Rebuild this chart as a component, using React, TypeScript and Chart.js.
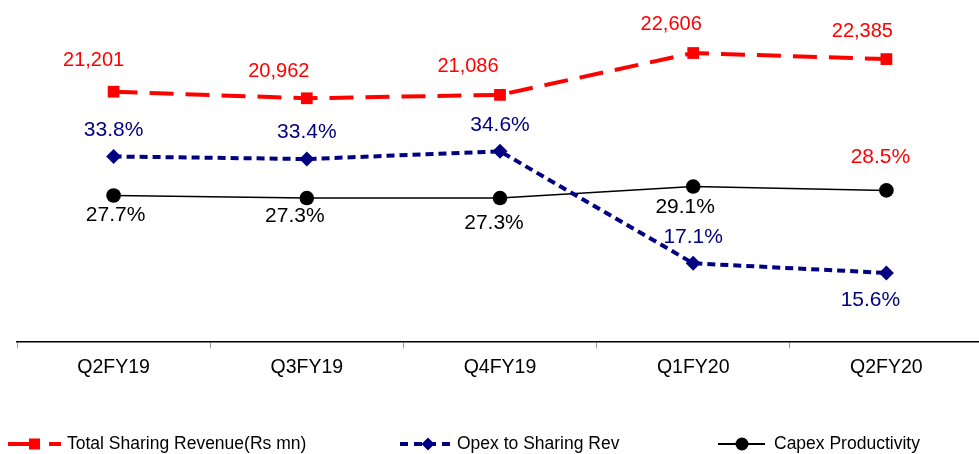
import React, { useEffect, useRef } from 'react';
import { Chart, registerables } from 'chart.js';

Chart.register(...registerables);

// ---- data ----
const categories = ['Q2FY19', 'Q3FY19', 'Q4FY19', 'Q1FY20', 'Q2FY20'];
const revenue = [21201, 20962, 21086, 22606, 22385];
const opexToRevenue = [33.8, 33.4, 34.6, 17.1, 15.6];
const capexProductivity = [27.7, 27.3, 27.3, 29.1, 28.5];
const seriesNames = ['Total Sharing Revenue(Rs mn)', 'Opex to Sharing Rev', 'Capex Productivity'];

// ---- styling / label placement (not data) ----
const FONT = '"Liberation Sans", Arial, Helvetica, sans-serif';
const RED = '#FF0000';
const NAVY = '#000080';
const BLACK = '#000000';

const revenueLabelOffsets = [[-20, -31], [-28, -27], [-32, -28], [-22, -29], [-24, -28]];
const opexLabelOffsets = [[0, -26], [0, -27], [0, -26], [0, -26], [-16, 27]];
const capexLabelOffsets = [[2, 20], [-12, 18], [-6, 25], [-8, 21], [-6, -33]];
const capexLabelColors = [BLACK, BLACK, BLACK, BLACK, RED];

const fmtRevenue = (v: number) => v.toLocaleString('en-US');
const fmtPct = (v: number) => v.toFixed(1) + '%';

const dataLabelPlugin = {
  id: 'dataLabels',
  afterDatasetsDraw(chart: any) {
    const ctx = chart.ctx;
    const specs = [
      { values: revenue, offsets: revenueLabelOffsets, colors: revenue.map(() => RED), fmt: fmtRevenue, size: 20 },
      { values: opexToRevenue, offsets: opexLabelOffsets, colors: opexToRevenue.map(() => NAVY), fmt: fmtPct, size: 21 },
      { values: capexProductivity, offsets: capexLabelOffsets, colors: capexLabelColors, fmt: fmtPct, size: 21 },
    ];
    ctx.save();
    ctx.textAlign = 'center';
    ctx.textBaseline = 'middle';
    specs.forEach((spec, di) => {
      const meta = chart.getDatasetMeta(di);
      ctx.font = `${spec.size}px ${FONT}`;
      meta.data.forEach((pt: any, i: number) => {
        const [dx, dy] = spec.offsets[i];
        ctx.fillStyle = spec.colors[i];
        ctx.fillText(spec.fmt(spec.values[i]), pt.x + dx, pt.y + dy);
      });
    });
    ctx.restore();
  },
};

const legendPlugin = {
  id: 'customLegend',
  afterDraw(chart: any) {
    const ctx = chart.ctx;
    const y = 444;
    ctx.save();
    // red item
    ctx.strokeStyle = RED;
    ctx.lineWidth = 4;
    ctx.setLineDash([21, 20]);
    ctx.beginPath();
    ctx.moveTo(8, y);
    ctx.lineTo(61, y);
    ctx.stroke();
    ctx.setLineDash([]);
    ctx.fillStyle = RED;
    ctx.fillRect(29, y - 5.5, 11, 11);

    // navy item
    ctx.strokeStyle = NAVY;
    ctx.lineWidth = 4;
    ctx.setLineDash([8, 6]);
    ctx.beginPath();
    ctx.moveTo(400, y);
    ctx.lineTo(452, y);
    ctx.stroke();
    ctx.setLineDash([]);
    ctx.fillStyle = NAVY;
    ctx.beginPath();
    ctx.moveTo(428 - 6.5, y);
    ctx.lineTo(428, y - 6.5);
    ctx.lineTo(428 + 6.5, y);
    ctx.lineTo(428, y + 6.5);
    ctx.closePath();
    ctx.fill();

    // black item
    ctx.strokeStyle = BLACK;
    ctx.lineWidth = 2;
    ctx.beginPath();
    ctx.moveTo(718, y);
    ctx.lineTo(765, y);
    ctx.stroke();
    ctx.fillStyle = BLACK;
    ctx.beginPath();
    ctx.arc(742, y, 6.5, 0, Math.PI * 2);
    ctx.fill();

    ctx.fillStyle = BLACK;
    ctx.font = `17.5px ${FONT}`;
    ctx.textAlign = 'left';
    ctx.textBaseline = 'middle';
    ctx.fillText(seriesNames[0], 67, y);
    ctx.fillText(seriesNames[1], 457, y);
    ctx.fillText(seriesNames[2], 774, y);
    ctx.restore();
  },
};

export default function App() {
  const canvasRef = useRef<HTMLCanvasElement | null>(null);

  useEffect(() => {
    if (!canvasRef.current) return;
    const chart = new Chart(canvasRef.current, {
      type: 'line',
      data: {
        labels: categories,
        datasets: [
          {
            label: seriesNames[0],
            data: revenue,
            yAxisID: 'yRev',
            borderColor: RED,
            backgroundColor: RED,
            borderWidth: 4,
            borderDash: [24, 12],
            pointStyle: 'rect',
            pointRadius: 8.3,
            pointBorderWidth: 0,
            pointBackgroundColor: RED,
            tension: 0,
            clip: false as any,
          },
          {
            label: seriesNames[1],
            data: opexToRevenue,
            yAxisID: 'yPct',
            borderColor: NAVY,
            backgroundColor: NAVY,
            borderWidth: 4,
            borderDash: [8, 5],
            pointStyle: 'rectRot',
            pointRadius: 7.5,
            pointBorderWidth: 0,
            pointBackgroundColor: NAVY,
            tension: 0,
            clip: false as any,
          },
          {
            label: seriesNames[2],
            data: capexProductivity,
            yAxisID: 'yPct',
            borderColor: BLACK,
            backgroundColor: BLACK,
            borderWidth: 1.5,
            pointStyle: 'circle',
            pointRadius: 7.3,
            pointBorderWidth: 0,
            pointBackgroundColor: BLACK,
            tension: 0,
            clip: false as any,
          },
        ],
      },
      options: {
        responsive: false,
        animation: false,
        layout: { autoPadding: false, padding: { left: 17, right: 0, top: 0, bottom: 0 } },
        plugins: {
          legend: { display: false },
          tooltip: { enabled: false },
        },
        scales: {
          x: {
            type: 'category',
            offset: true,
            grid: {
              display: true,
              drawOnChartArea: false,
              drawTicks: true,
              tickLength: 6,
              color: '#999999',
              lineWidth: 1,
              offset: true,
            },
            border: { display: true, color: BLACK, width: 1.5 },
            ticks: {
              color: BLACK,
              font: { family: FONT, size: 19.5 },
              padding: 8,
              maxRotation: 0,
              autoSkip: false,
            },
            afterFit: (scale: any) => {
              scale.height = 454 - 342;
              scale.paddingLeft = 0;
              scale.paddingRight = 0;
            },
          },
          yRev: { type: 'linear', display: false, min: 12116, max: 24530 },
          yPct: { type: 'linear', display: false, min: 4.8, max: 58.26 },
        },
      } as any,
      plugins: [dataLabelPlugin, legendPlugin],
    });
    return () => chart.destroy();
  }, []);

  return (
    <div
      style={{
        position: 'absolute',
        left: 0,
        top: 0,
        width: 979,
        height: 454,
        overflow: 'hidden',
        background: '#fff',
      }}
    >
      <canvas ref={canvasRef} width={983} height={454} style={{ display: 'block' }} />
    </div>
  );
}
